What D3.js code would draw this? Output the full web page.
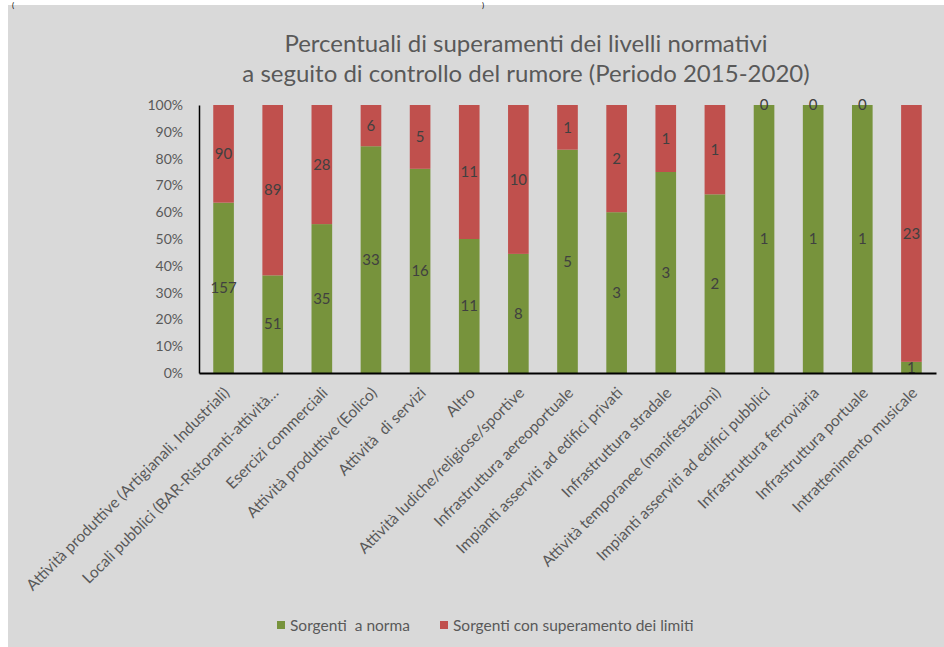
<!DOCTYPE html>
<html>
<head>
<meta charset="utf-8">
<script src="https://cdn.jsdelivr.net/npm/d3@7"></script>
<style>
  html, body { margin: 0; padding: 0; background: #ffffff; }
  svg { display: block; }
  text { font-family: Lato, "Open Sans", sans-serif; }
</style>
</head>
<body>
<svg id="chart" width="944" height="647"></svg>
<script>
const categories = [
  "Attività produttive (Artigianali, Industriali)",
  "Locali pubblici (BAR-Ristoranti-attività…",
  "Esercizi commerciali",
  "Attività produttive (Eolico)",
  "Attività  di servizi",
  "Altro",
  "Attività ludiche/religiose/sportive",
  "Infrastruttura aereoportuale",
  "Impianti asserviti ad edifici privati",
  "Infrastruttura stradale",
  "Attività temporanee (manifestazioni)",
  "Impianti asserviti ad edifici pubblici",
  "Infrastruttura ferroviaria",
  "Infrastruttura portuale",
  "Intrattenimento musicale"
];
const aNorma = [157, 51, 35, 33, 16, 11, 8, 5, 3, 3, 2, 1, 1, 1, 1];
const superamento = [90, 89, 28, 6, 5, 11, 10, 1, 2, 1, 1, 0, 0, 0, 23];
const seriesNames = ["Sorgenti  a norma", "Sorgenti con superamento dei limiti"];
const seriesColors = ["#77933C", "#C0504D"];
const yTicks = [0, 0.1, 0.2, 0.3, 0.4, 0.5, 0.6, 0.7, 0.8, 0.9, 1.0];
const titleLines = [
  "Percentuali di superamenti dei livelli normativi",
  "a seguito di controllo del rumore (Periodo 2015-2020)"
];

const svg = d3.select("#chart");
const W = 944, H = 647;

// page background and chart area
svg.append("rect").attr("x", 0).attr("y", 0).attr("width", W).attr("height", H).attr("fill", "#ffffff");
svg.append("rect").attr("x", 8).attr("y", 5).attr("width", W - 8).attr("height", H - 5).attr("fill", "#D9D9D9");
// fragments of the surrounding document text above the chart
svg.append("text").attr("x", 12).attr("y", 8).attr("font-family", "Liberation Serif")
  .attr("font-size", 8).attr("fill", "#000").text("(");
svg.append("text").attr("x", 482).attr("y", 8).attr("font-family", "Liberation Serif")
  .attr("font-size", 8).attr("fill", "#000").text(")");

// title
svg.append("g").selectAll("text").data(titleLines).join("text")
  .attr("x", 526).attr("y", (d, i) => 52 + i * 30)
  .attr("text-anchor", "middle").attr("font-size", 24).attr("fill", "#595959")
  .text(d => d);

const plot = { left: 199, right: 936, top: 105, bottom: 373 };

const x = d3.scaleBand().domain(categories).range([plot.left, plot.right])
  .paddingInner(0.58).paddingOuter(0.29);
const y = d3.scaleLinear().domain([0, 1]).range([plot.bottom, plot.top]);

const rows = categories.map((c, i) => ({ cat: c, a: aNorma[i], s: superamento[i] }));
const stack = d3.stack().keys(["a", "s"]).offset(d3.stackOffsetExpand);
const layers = stack(rows);

const gBars = svg.append("g");
layers.forEach((layer, li) => {
  gBars.append("g").attr("fill", seriesColors[li])
    .selectAll("rect").data(layer).join("rect")
    .attr("x", d => x(d.data.cat))
    .attr("width", x.bandwidth())
    .attr("y", d => y(d[1]))
    .attr("height", d => y(d[0]) - y(d[1]));
});

// data labels
const gLabels = svg.append("g");
layers.forEach((layer, li) => {
  gLabels.append("g").selectAll("text").data(layer).join("text")
    .attr("x", d => x(d.data.cat) + x.bandwidth() / 2)
    .attr("y", d => y((d[0] + d[1]) / 2))
    .attr("dy", "0.35em")
    .attr("text-anchor", "middle")
    .attr("font-size", 15)
    .attr("fill", "#404040")
    .text(d => d.data[layer.key]);
});

// y axis
const yAxis = svg.append("g").attr("transform", `translate(${plot.left},0)`)
  .call(d3.axisLeft(y).tickValues(yTicks).tickFormat(d3.format(".0%")).tickSize(0).tickPadding(16));
yAxis.select(".domain").attr("stroke", "#000").attr("stroke-width", 1.5);
yAxis.selectAll(".tick text").attr("font-size", 14).attr("fill", "#595959")
  .attr("font-family", "Lato, 'Open Sans', sans-serif");

// x axis
const xAxis = svg.append("g").attr("transform", `translate(0,${plot.bottom})`)
  .call(d3.axisBottom(x).tickSize(0).tickSizeOuter(0).tickFormat(d => d));
xAxis.select(".domain").attr("stroke", "#000").attr("stroke-width", 2);
xAxis.selectAll(".tick text")
  .attr("font-size", 15.5).attr("fill", "#595959")
  .attr("font-family", "Lato, 'Open Sans', sans-serif")
  .attr("text-anchor", "end")
  .attr("x", 0).attr("y", 0).attr("dy", "0.35em")
  .attr("transform", "translate(3,17) rotate(-45)")
  .style("white-space", "pre");

// legend
const legend = svg.append("g");
const legendX = [277, 440];
seriesNames.forEach((name, i) => {
  legend.append("rect").attr("x", legendX[i]).attr("y", 621).attr("width", 8).attr("height", 8)
    .attr("fill", seriesColors[i]);
  legend.append("text").attr("x", legendX[i] + 13).attr("y", 630.5)
    .attr("font-size", 15.5).attr("fill", "#595959").style("white-space", "pre").text(name);
});
</script>
</body>
</html>
